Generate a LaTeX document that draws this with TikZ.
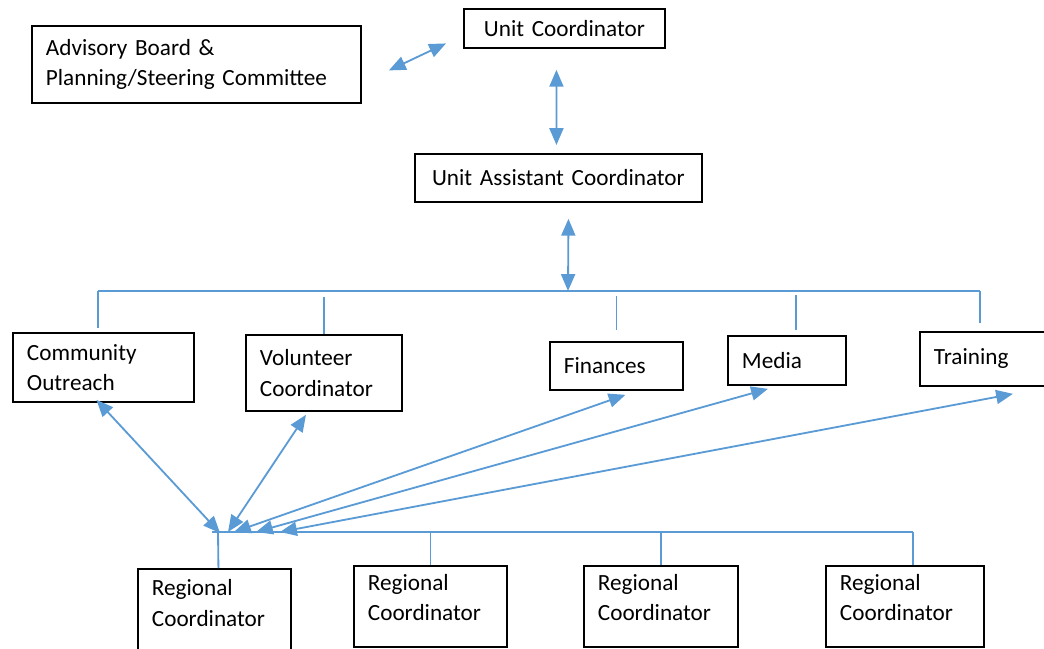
\documentclass[tikz,border=0pt]{standalone}
\usepackage{fontspec}
\setmainfont{Carlito}
\usetikzlibrary{positioning,calc,arrows.meta}
\definecolor{linkblue}{HTML}{5B9BD5}
\tikzset{
  orgbox/.style={draw, line width=1.3pt, inner xsep=0.35cm, inner ysep=0pt, align=left,
    anchor=north west, font=\fontsize{16.5}{21.5}\selectfont},
  regbox/.style={orgbox, text width=3.125cm, minimum height=2.025cm, text depth=1.2cm},
  link/.style={draw=linkblue, line width=1.3pt},
  biarrow/.style={link, {Triangle[length=0.42cm,width=0.35cm]}-{Triangle[length=0.42cm,width=0.35cm]}}
}
\begin{document}
\begin{tikzpicture}[x=0.025cm, y=-0.025cm]
    \useasboundingbox (0,0) rectangle (1044,649);
    \clip (0,0) rectangle (1044,649);
    % top of the chart
    \node[orgbox, text width=7.525cm, minimum height=1.925cm] (adv) at (31,25) {Advisory Board \&\\Planning/Steering Committee};
    \node[orgbox, align=center, text width=4.325cm, minimum height=0.975cm] (uc) at (463,8) {Unit Coordinator};
    \node[orgbox, align=center, text width=6.475cm, minimum height=1.2cm] (uac) at (414,153) {Unit Assistant Coordinator};
    % middle row
    \node[orgbox, text width=3.825cm, minimum height=1.725cm] (com) at (12,332) {Community\\Outreach};
    \node[orgbox, text width=3.2cm, minimum height=1.9cm] (vol) at (245,334) {Volunteer\\Coordinator};
    \node[orgbox, text width=2.625cm, minimum height=1.2cm] (fin) at (549,341) {Finances};
    \node[orgbox, text width=2.25cm, minimum height=1.225cm] (med) at (727,335) {Media};
    \node[orgbox, text width=2.8cm, minimum height=1.35cm] (trn) at (919,331) {Training};
    % regional coordinators
    \node[regbox, minimum height=2.15cm] (reg1) at (137,568) {Regional\\Coordinator};
    \node[regbox] (reg2) at (353,565) {Regional\\Coordinator};
    \node[regbox, text width=3.15cm] (reg3) at (583,565) {Regional\\Coordinator};
    \node[regbox, text width=3.25cm] (reg4) at (825,565) {Regional\\Coordinator};
    % bus lines
    \coordinate (tbL) at (98,291);
    \coordinate (tbus) at (568,291);
    \coordinate (tbR) at (980,291);
    \coordinate (bbL) at (212,532);
    \coordinate (bbR) at (913,532);
    % arrows between the coordinators
    \draw[biarrow] ($(adv.east)+(27,6)$) -- ($(uc.west)+(-17,15)$);
    \draw[biarrow] ($(uc.south)+(-8,21)$) -- ($(uac.north)+(-2,-8)$);
    \draw[biarrow] ($(uac.south)+(10,16)$) -- (tbus);
    % top bus and drops
    \draw[link] (tbL) -- (tbR);
    \draw[link, shorten >=0.1cm] (tbL) -- (tbL |- com.north);
    \draw[link, shorten <=0.15cm] (vol.north |- tbus) -- (vol.north);
    \draw[link, shorten <=0.12cm, shorten >=0.27cm] (fin.north |- tbus) -- (fin.north);
    \draw[link, shorten <=0.1cm, shorten >=0.12cm] ($(med.north |- tbus)+(9,0)$) -- ($(med.north)+(9,0)$);
    \draw[link, shorten >=0.2cm] (tbR) -- (tbR |- trn.north);
    % bottom bus and drops
    \draw[link] (bbL) -- (bbR);
    \draw[link] ($(bbL)+(6,0)$) -- ($(reg1.north)+(4,0)$);
    \draw[link] (reg2.north |- bbL) -- (reg2.north);
    \draw[link] (reg3.north |- bbL) -- (reg3.north);
    \draw[link] (bbR) -- (bbR |- reg4.north);
    % links from the regional coordinators
    \draw[biarrow] ($(bbL)+(8,1)$) -- ($(com.south)+(-7,-3)$);
    \draw[biarrow] ($(bbL)+(16,0)$) -- ($(vol.south)+(-18,3)$);
    \draw[biarrow] ($(bbL)+(22,0)$) -- ($(fin.south)+(9,4)$);
    \draw[biarrow] ($(bbL)+(44,0)$) -- ($(med.south)+(-19,3)$);
    \draw[biarrow] ($(bbL)+(68,0)$) -- ($(trn.south)+(23,7)$);
\end{tikzpicture}
\end{document}
